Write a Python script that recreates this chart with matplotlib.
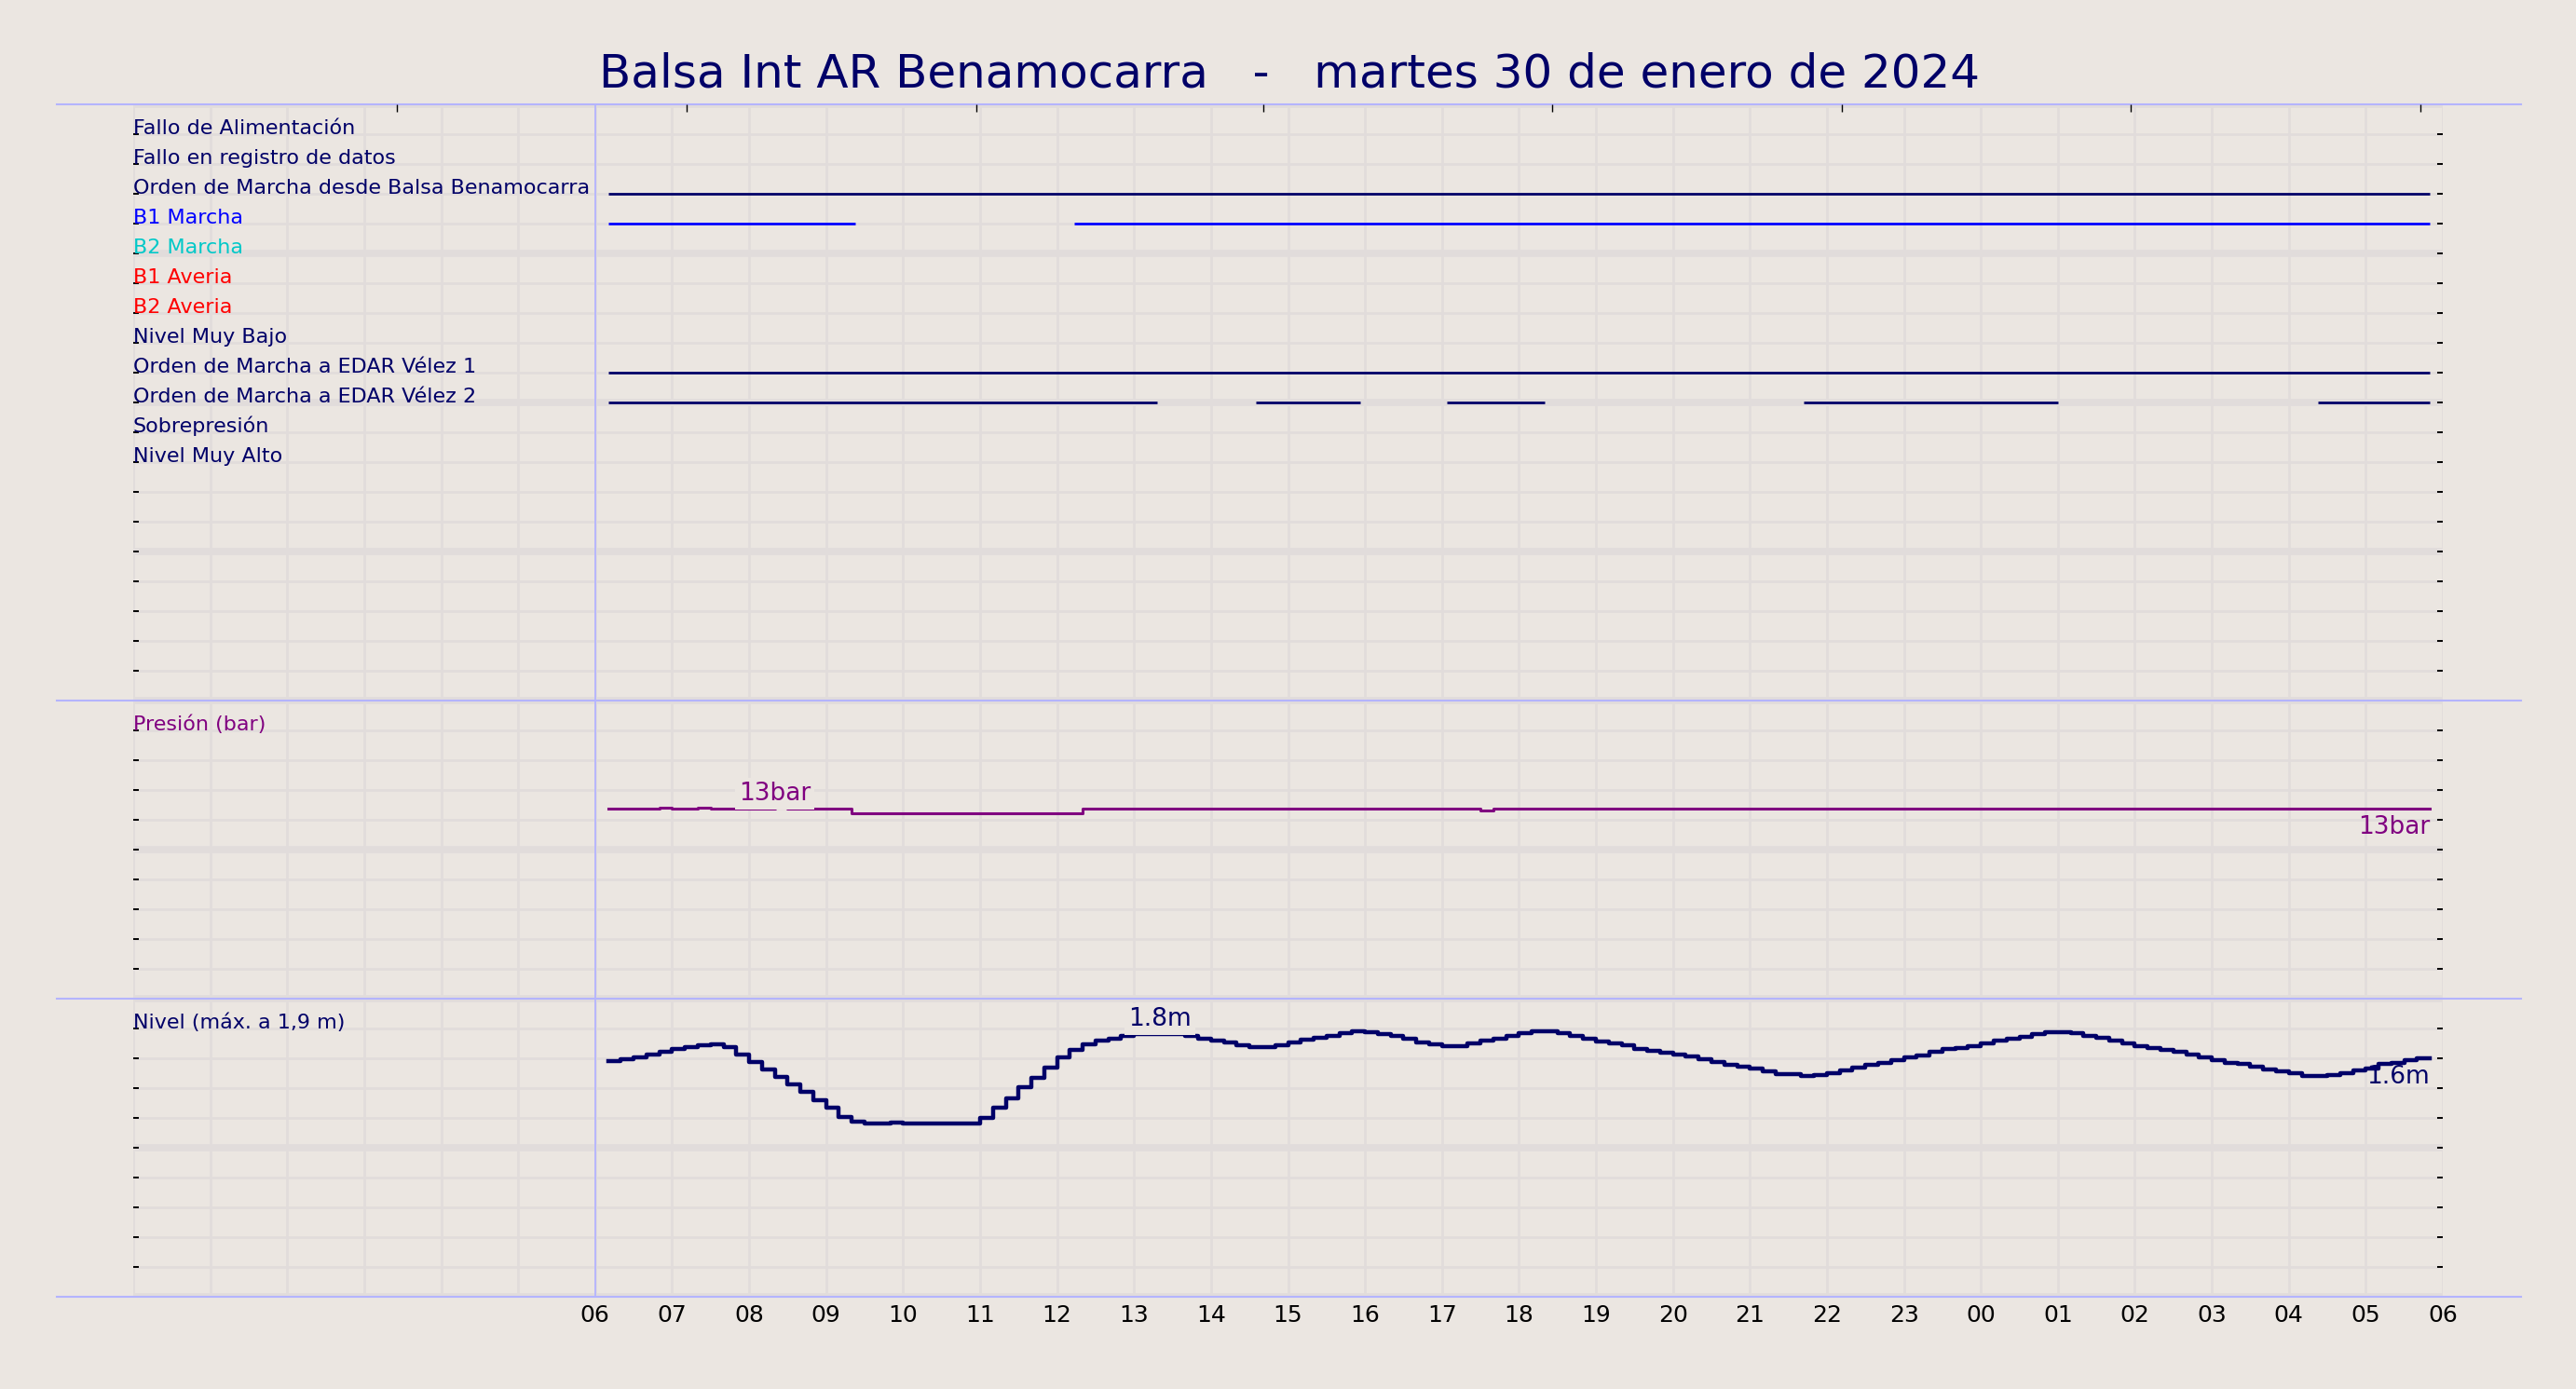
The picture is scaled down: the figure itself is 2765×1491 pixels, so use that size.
import numpy as np
import pandas as pd
import matplotlib
matplotlib.use("Agg")
import matplotlib.pyplot as plt

# colores
BG = '#ebe6e1'
GRID = '#e1dcdb'
NAVY = '#000068'
LAV = '#b4b4ff'
PURPLE = '#800080'

title = "Balsa Int AR Benamocarra   -   martes 30 de enero de 2024"

# ---- señales digitales (de arriba a abajo) ----
labels = ["Fallo de Alimentación", "Fallo en registro de datos",
          "Orden de Marcha desde Balsa Benamocarra", "B1 Marcha", "B2 Marcha",
          "B1 Averia", "B2 Averia", "Nivel Muy Bajo",
          "Orden de Marcha a EDAR Vélez 1", "Orden de Marcha a EDAR Vélez 2",
          "Sobrepresión", "Nivel Muy Alto"]
label_colors = [NAVY, NAVY, NAVY, '#0000ff', '#00c8c8', '#ff0000', '#ff0000',
                NAVY, NAVY, NAVY, NAVY, NAVY]

orden_balsa = [("06:10", "05:50")]
b1_marcha = [("06:10", "09:23"), ("12:13", "05:50")]
edar1 = [("06:10", "05:50")]
edar2 = [("06:10", "13:18"), ("14:35", "15:56"), ("17:04", "18:20"),
         ("21:42", "01:00"), ("04:23", "05:50")]
on_intervals = [[], [], orden_balsa, b1_marcha, [], [], [], [], edar1, edar2, [], []]

# ---- analogicas, cada 10 min desde 06:10 ----
t0 = pd.Timestamp("2024-01-30 06:10")
times = pd.date_range(t0, periods=143, freq="10min")

nivel = [1.581, 1.594, 1.606, 1.623, 1.642,                 # 06
         1.663, 1.675, 1.688, 1.694, 1.677, 1.627,          # 07
         1.577, 1.525, 1.475, 1.427, 1.377, 1.317,          # 08
         1.269, 1.208, 1.175, 1.163, 1.163, 1.169,          # 09
         1.163, 1.163, 1.163, 1.163, 1.163, 1.163,          # 10
         1.200, 1.269, 1.330, 1.404, 1.469, 1.538,          # 11
         1.608, 1.655, 1.696, 1.719, 1.733, 1.752,          # 12
         1.763, 1.763, 1.763, 1.760, 1.748, 1.729,          # 13
         1.717, 1.704, 1.685, 1.675, 1.673, 1.688,          # 14
         1.706, 1.727, 1.740, 1.752, 1.769, 1.783,          # 15
         1.775, 1.760, 1.748, 1.729, 1.708, 1.696,          # 16
         1.683, 1.683, 1.700, 1.717, 1.733, 1.752,          # 17
         1.767, 1.783, 1.783, 1.767, 1.752, 1.733,          # 18
         1.715, 1.702, 1.688, 1.665, 1.652, 1.640,          # 19
         1.627, 1.610, 1.596, 1.577, 1.558, 1.546,          # 20
         1.533, 1.515, 1.496, 1.496, 1.479, 1.488,          # 21
         1.502, 1.521, 1.540, 1.554, 1.571, 1.590,          # 22
         1.608, 1.621, 1.646, 1.660, 1.667, 1.683,          # 23
         1.702, 1.721, 1.733, 1.742, 1.760, 1.775,          # 00
         1.775, 1.767, 1.752, 1.740, 1.721, 1.702,          # 01
         1.683, 1.671, 1.658, 1.646, 1.627, 1.608,          # 02
         1.590, 1.571, 1.560, 1.546, 1.527, 1.513,          # 03
         1.500, 1.483, 1.479, 1.490, 1.498, 1.521,          # 04
         1.533, 1.560, 1.571, 1.590, 1.602, 1.602]          # 05

presion = [12.73, 12.73, 12.73, 12.73, 12.84,               # 06
           12.73, 12.73, 12.84, 12.73, 12.73, 12.73,        # 07
           12.73, 12.73, 12.84, 12.73, 12.73, 12.77,        # 08
           12.77, 12.77, 12.46, 12.46, 12.46, 12.46,        # 09
           12.46, 12.46, 12.46, 12.46, 12.46, 12.46,        # 10
           12.46, 12.46, 12.46, 12.46, 12.46, 12.46,        # 11
           12.46, 12.46, 12.77, 12.77, 12.77, 12.77,        # 12
           12.73, 12.77, 12.73, 12.77, 12.73, 12.77,        # 13
           12.73, 12.73, 12.73, 12.73, 12.73, 12.73,        # 14
           12.73, 12.73, 12.73, 12.73, 12.73, 12.73,        # 15
           12.73, 12.73, 12.73, 12.73, 12.73, 12.73,        # 16
           12.73, 12.73, 12.73, 12.65, 12.73, 12.73,        # 17
           12.73, 12.73, 12.73, 12.73, 12.73, 12.73,        # 18
           12.73, 12.73, 12.73, 12.77, 12.73, 12.73,        # 19
           12.73, 12.73, 12.73, 12.73, 12.73, 12.73,        # 20
           12.73, 12.73, 12.73, 12.73, 12.77, 12.77,        # 21
           12.73, 12.73, 12.73, 12.73, 12.73, 12.73,        # 22
           12.73, 12.73, 12.73, 12.73, 12.73, 12.77,        # 23
           12.73, 12.73, 12.73, 12.73, 12.73, 12.77,        # 00
           12.73, 12.73, 12.73, 12.73, 12.73, 12.77,        # 01
           12.73, 12.73, 12.73, 12.73, 12.73, 12.73,        # 02
           12.73, 12.73, 12.73, 12.73, 12.73, 12.73,        # 03
           12.77, 12.73, 12.73, 12.77, 12.73, 12.73,        # 04
           12.77, 12.73, 12.73, 12.77, 12.77, 12.73]        # 05

nivel_label_at = "13:20"
presion_label_at = "08:20"

hour_ticks = list(range(0, 31))
top_ticks = [3.43, 7.19, 10.95, 14.68, 18.43, 22.19, 25.95, 29.71]


def hrs(s):
    h, m = map(int, s.split(":"))
    v = h + m / 60.0
    return v + 24 if v < 6 else v


day0 = pd.Timestamp("2024-01-30 00:00")
th = np.array([(t - day0).total_seconds() / 3600.0 for t in times])

fig = plt.figure(figsize=(27.65, 14.91), dpi=100, facecolor=BG)
ax = fig.add_axes([143 / 2765, 1 - 1392 / 1491, 2479 / 2765, 1280 / 1491])
ax.set_facecolor(BG)
ax.set_xlim(0, 30)
ax.set_ylim(0, 40)

# rejilla
ax.set_xticks(hour_ticks)
ax.set_xticklabels(['' if h < 6 else '%02d' % (h % 24) for h in hour_ticks], fontsize=18)
ax.set_yticks(range(0, 41, 5))
ax.set_yticks(range(0, 41), minor=True)
ax.set_yticklabels([])
ax.grid(True, which='major', axis='x', color=GRID, lw=2.0, zorder=0)
ax.grid(True, which='minor', axis='y', color=GRID, lw=2.0, zorder=0)
ax.grid(True, which='major', axis='y', color=GRID, lw=5.5, zorder=0)
ax.set_axisbelow(True)
for sp in ax.spines.values():
    sp.set_visible(False)
ax.tick_params(axis='x', which='both', length=0, pad=6, labelcolor='black')
ax.tick_params(axis='y', which='both', direction='in', length=4.5, width=1.4,
               left=True, right=True, color='black')

ax2 = ax.twiny()
ax2.set_xlim(0, 30)
ax2.set_xticks(top_ticks)
ax2.set_xticklabels([])
ax2.tick_params(axis='x', direction='in', length=5.5, width=1.0, color='black')
for sp in ax2.spines.values():
    sp.set_visible(False)

# separadores
for yy in [0, 10, 20, 40]:
    ax.axhline(yy, xmin=-0.0332, xmax=1.034, color=LAV, lw=1.5, clip_on=False, zorder=1)
ax.axvline(6, color=LAV, lw=1.3, zorder=1)

# señales digitales
for i, (lab, col) in enumerate(zip(labels, label_colors)):
    yy = 39 - i
    ax.text(0, yy, lab, ha='left', va='baseline', color=col, fontsize=16, zorder=3)
    for a, b in on_intervals[i]:
        ax.hlines(yy, hrs(a), hrs(b), color=col, lw=2.0, zorder=3)

# presion
ax.text(0, 19, "Presión (bar)", ha='left', va='baseline', color=PURPLE, fontsize=16)
yp = 10 + np.array(presion) / 2.0
ax.step(th, yp, where='post', color=PURPLE, lw=2.2, zorder=3)
ip = int(np.argmin(np.abs(th - hrs(presion_label_at))))
ax.annotate("%.0fbar" % presion[ip], (th[ip], yp[ip]), xytext=(0, 1), textcoords='offset points',
            ha='center', va='bottom', color=PURPLE, fontsize=19, zorder=4,
            bbox=dict(boxstyle='square,pad=0.15', fc=BG, ec='none'))
ax.annotate("%.0fbar" % presion[-1], (th[-1], yp[-1]), xytext=(0, -5), textcoords='offset points',
            ha='right', va='top', color=PURPLE, fontsize=19, zorder=4)

# nivel
ax.text(0, 9, "Nivel (máx. a 1,9 m)", ha='left', va='baseline', color=NAVY, fontsize=16)
yn = np.array(nivel) * 5.0
ax.step(th, yn, where='post', color=NAVY, lw=3.2, zorder=3)
il = int(np.argmin(np.abs(th - hrs(nivel_label_at))))
ax.annotate("%.1fm" % nivel[il], (th[il], yn[il]), xytext=(0, 2), textcoords='offset points',
            ha='center', va='bottom', color=NAVY, fontsize=19, zorder=4,
            bbox=dict(boxstyle='square,pad=0.15', fc=BG, ec='none'))
ax.annotate("%.1fm" % nivel[-1], (th[-1], yn[-1]), xytext=(0, -5.5), textcoords='offset points',
            ha='right', va='top', color=NAVY, fontsize=19, zorder=4)

fig.text(0.5005, 1 - 79 / 1491, title, ha='center', va='center', color=NAVY, fontsize=36)

fig.savefig("out.png", dpi=100, facecolor=BG)
